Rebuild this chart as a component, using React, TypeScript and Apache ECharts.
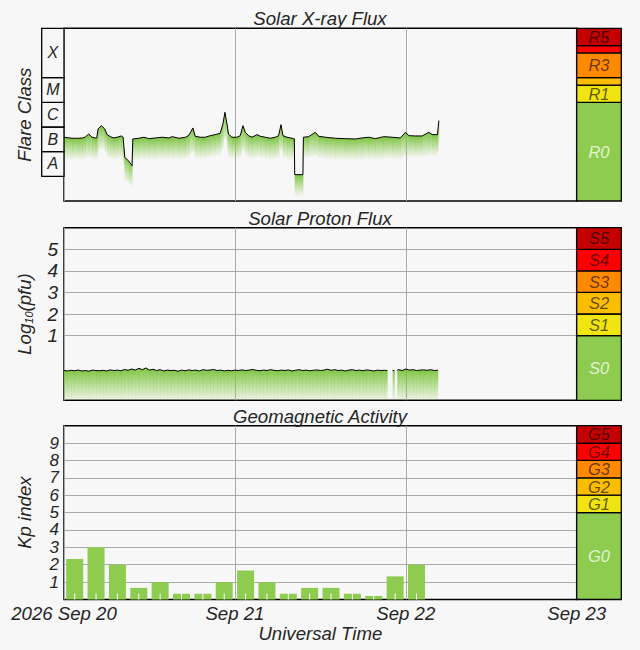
import React, { useEffect, useRef } from 'react';
import * as echarts from 'echarts';

// time axis is in hours from 2026 Sep 20 00:00 UT
const dayLabels = ['2026 Sep 20', 'Sep 21', 'Sep 22', 'Sep 23'];

// GOES X-ray flux (W/m2)
const xrayHours = [
  0.0, 1.12, 2.07, 2.6, 3.0, 3.47, 3.94, 4.4, 4.6, 4.78, 5.25, 5.72, 6.05, 6.51, 6.99, 7.45,
  8.06, 8.3, 8.54, 9.1, 9.56, 9.66, 10.5, 11.21, 11.91, 12.84, 13.78, 14.72, 15.19, 16.13,
  17.06, 17.54, 18.1, 18.42, 19.13, 19.83, 20.53, 21.23, 21.94, 22.32, 22.6, 22.88, 23.1,
  23.58, 24.29, 24.75, 25.13, 25.45, 25.92, 26.4, 27.1, 27.56, 28.27, 28.97, 29.67, 30.14,
  30.47, 30.75, 31.32, 32.02, 32.35, 32.4, 33.55, 33.62, 34.36, 35.3, 35.76, 36.7, 38.11,
  39.51, 40.92, 41.86, 42.79, 43.73, 44.9, 46.08, 47.25, 47.95, 48.42, 49.36, 50.3, 51.23,
  51.71, 52.45, 52.64,
];
const xrayFlux = [
  3.84e-7, 3.49e-7, 3.49e-7, 3.59e-7, 3.94e-7, 5.21e-7, 3.84e-7, 3.59e-7, 3.59e-7, 8.32e-7,
  1.13e-6, 8.32e-7, 4.89e-7, 4.06e-7, 3.59e-7, 3.84e-7, 4.33e-7, 3.84e-7, 5.93e-8, 4.08e-8,
  2.71e-8, 3.27e-7, 3.49e-7, 3.84e-7, 3.37e-7, 3.59e-7, 3.84e-7, 3.59e-7, 4.06e-7, 3.49e-7,
  3.84e-7, 4.62e-7, 9.14e-7, 4.21e-7, 3.84e-7, 3.84e-7, 4.45e-7, 4.89e-7, 5.57e-7, 1.33e-6,
  3.95e-6, 1.33e-6, 5.21e-7, 3.84e-7, 3.84e-7, 4.45e-7, 1.13e-6, 6.11e-7, 4.45e-7, 3.84e-7,
  4.89e-7, 4.21e-7, 3.84e-7, 3.49e-7, 3.84e-7, 4.45e-7, 1.24e-6, 4.45e-7, 3.84e-7, 3.49e-7,
  3.27e-7, 1.17e-8, 1.17e-8, 3.84e-7, 4.06e-7, 6.11e-7, 4.21e-7, 3.84e-7, 3.49e-7, 3.37e-7,
  3.27e-7, 3.59e-7, 3.84e-7, 3.37e-7, 4.06e-7, 3.84e-7, 3.59e-7, 6.11e-7, 4.45e-7, 4.33e-7,
  4.33e-7, 6.11e-7, 4.89e-7, 4.89e-7, 1.81e-6,
];

// flare class boxes and R scale
const flareClasses = ['A', 'B', 'C', 'M', 'X'];
const flareBounds = [1e-8, 1e-7, 1e-6, 1e-5, 1e-4, 1e-2];
const rLabels = ['R0', 'R1', '', 'R3', '', 'R5'];
const rBounds = [1e-9, 1e-5, 5e-5, 1e-4, 1e-3, 2e-3, 1e-2];

// >=10 MeV proton flux, log10(pfu); cadence 30 min
const protonStep = 0.5;
const protonMain = [
  -0.62, -0.64, -0.61, -0.63, -0.6, -0.64, -0.62, -0.65, -0.6, -0.62, -0.63,
  -0.61, -0.64, -0.59, -0.62, -0.6, -0.63, -0.57, -0.61, -0.55, -0.6,
  -0.52, -0.58, -0.5, -0.6, -0.56, -0.62, -0.58, -0.64, -0.6, -0.62,
  -0.61, -0.65, -0.6, -0.63, -0.59, -0.62, -0.6, -0.64, -0.58, -0.61,
  -0.6, -0.57, -0.62, -0.6, -0.64, -0.61, -0.63, -0.6, -0.62, -0.59,
  -0.62, -0.6, -0.57, -0.61, -0.63, -0.6, -0.62, -0.58, -0.61, -0.63,
  -0.6, -0.62, -0.59, -0.64, -0.61, -0.58, -0.62, -0.6, -0.63, -0.61,
  -0.59, -0.62, -0.6, -0.56, -0.61, -0.58, -0.62, -0.6, -0.64, -0.6,
  -0.58, -0.62, -0.6, -0.63, -0.59, -0.61, -0.64, -0.6, -0.62, -0.61,
];
const protonTailHours = [45.4, 45.45, 46.15, 46.4, 46.45, 46.8, 47.0, 47.5, 48.0, 48.5, 49.0, 49.5, 50.0, 50.5, 51.0, 51.5, 52.0, 52.5];
const protonTail = [-0.62, null, -0.6, -0.63, null, -0.6, -0.58, -0.62, -0.55, -0.6, -0.58, -0.62, -0.6, -0.59, -0.61, -0.58, -0.62, -0.6];
const protonHours = [...protonMain.map((_, i) => i * protonStep), ...protonTailHours];
const protonLog: (number | null)[] = [...protonMain, ...protonTail];
const sLabels = ['S0', 'S1', 'S2', 'S3', 'S4', 'S5'];
const sBounds = [-2, 1, 2, 3, 4, 5, 6];

// planetary Kp, 3-hour bins
const kpHours = [1.5, 4.5, 7.5, 10.5, 13.5, 16.5, 19.5, 22.5, 25.5, 28.5, 31.5, 34.5, 37.5, 40.5, 43.5, 46.5, 49.5];
const kpValues = [2.33, 3.0, 2.0, 0.67, 1.0, 0.33, 0.33, 1.0, 1.67, 1.0, 0.33, 0.67, 0.67, 0.33, 0.2, 1.33, 2.0];
const kpLines = [1, 2, 3, 4, 5, 6, 7, 8, 9];
const gLabels = ['G0', 'G1', 'G2', 'G3', 'G4', 'G5'];
const gBounds = [0, 5, 6, 7, 8, 9, 10];

const scaleColors = ['#8dcc4e', '#f0e412', '#fbbd00', '#ff8a00', '#ff0000', '#c40000'];
const GREEN = '#8dcc4e';
const BG = '#f7f7f7';
const FONT = 'Liberation Sans';
const TEXT = '#262626';

const PLOT_L = 64;
const PLOT_W = 512.7;
const SCALE_W = 44.6;
const BOX_L = 41.7;
const panels = [
  { top: 28.3, height: 172.7 },
  { top: 227.7, height: 172.6 },
  { top: 425.7, height: 173.8 },
];

const App: React.FC = () => {
  const chartRef = useRef<HTMLDivElement>(null);

  useEffect(() => {
    const chart = echarts.init(chartRef.current!, null, { renderer: 'svg' });

    const textBase = { fontFamily: FONT, fontStyle: 'italic' as const };

    const bandSeries = (idx: number, bounds: number[], labels: string[], colors: string[], labelColor: (i: number) => string, fontSize: number) => ({
      type: 'custom',
      xAxisIndex: idx,
      yAxisIndex: idx,
      silent: true,
      z: 5,
      data: labels.map((_, i) => [0, bounds[i], bounds[i + 1]]),
      renderItem: (params: any, api: any) => {
        const i = params.dataIndex;
        const p0 = api.coord([0, bounds[i]]);
        const p1 = api.coord([1, bounds[i + 1]]);
        return {
          type: 'group',
          children: [
            {
              type: 'rect',
              shape: { x: p0[0], y: p1[1], width: p1[0] - p0[0], height: p0[1] - p1[1] },
              style: { fill: colors[i], stroke: '#000', lineWidth: 1.3 },
            },
            {
              type: 'text',
              style: {
                text: labels[i],
                x: (p0[0] + p1[0]) / 2,
                y: (p0[1] + p1[1]) / 2,
                align: 'center',
                verticalAlign: 'middle',
                fontSize,
                lineHeight: fontSize,
                fontFamily: FONT,
                fontStyle: 'italic',
                fill: labelColor(i),
              },
            },
          ],
        };
      },
    });

    const scaleLabelColor = (i: number) => (i === 0 ? 'rgba(255,255,255,0.75)' : 'rgba(0,0,0,0.62)');

    const fillGradient = (top: string, bottom: string) =>
      new echarts.graphic.LinearGradient(0, 0, 0, 1, [
        { offset: 0, color: top },
        { offset: 1, color: bottom },
      ]);

    const gridLines = (values: number[]) => ({
      silent: true,
      symbol: ['none', 'none'],
      label: { show: false },
      lineStyle: { color: '#aaa', width: 1, type: 'solid' },
      data: values.map((v) => ({ yAxis: v })),
    });

    const frame = { show: true, borderColor: '#000', borderWidth: 1.5, backgroundColor: BG };
    const grids = [
      // 0 x-ray, 1 flare class boxes, 2 R scale
      { left: PLOT_L, width: PLOT_W, ...panels[0], ...frame },
      { left: BOX_L, width: PLOT_L - BOX_L, ...panels[0] },
      { left: PLOT_L + PLOT_W, width: SCALE_W, ...panels[0] },
      // 3 protons, 4 S scale
      { left: PLOT_L, width: PLOT_W, ...panels[1], ...frame },
      { left: PLOT_L + PLOT_W, width: SCALE_W, ...panels[1] },
      // 5 Kp, 6 G scale
      { left: PLOT_L, width: PLOT_W, ...panels[2], ...frame },
      { left: PLOT_L + PLOT_W, width: SCALE_W, ...panels[2] },
    ];

    const timeAxis = (gridIndex: number, labels: boolean) => ({
      type: 'value',
      gridIndex,
      min: 0,
      max: 72,
      interval: 24,
      axisLine: { show: false },
      axisTick: { show: false },
      splitLine: { show: true, lineStyle: { color: '#aaa', width: 1 } },
      axisLabel: labels
        ? {
            show: true,
            margin: 4,
            fontSize: 18.6,
            color: TEXT,
            ...textBase,
            formatter: (v: number) => dayLabels[Math.round(v / 24)],
          }
        : { show: false },
      name: labels ? 'Universal Time' : '',
      nameLocation: 'middle',
      nameGap: 24,
      nameTextStyle: { fontSize: 18.6, color: TEXT, ...textBase },
    });
    const unitAxis = (gridIndex: number) => ({ type: 'value', gridIndex, min: 0, max: 1, show: false });
    const hiddenY = (gridIndex: number, extra: object) => ({ gridIndex, show: false, ...extra });
    const logRange = { type: 'log', logBase: 10, min: 1e-9, max: 1e-2 };

    const yName = {
      nameLocation: 'middle',
      nameGap: 30,
      nameTextStyle: { fontSize: 18.6, color: TEXT, ...textBase },
    };

    const option = {
      animation: false,
      backgroundColor: BG,
      textStyle: { fontFamily: FONT },
      title: [
        { text: 'Solar X-ray Flux', top: 9 },
        { text: 'Solar Proton Flux', top: 208.5 },
        { text: 'Geomagnetic Activity', top: 406.5 },
      ].map((t) => ({
        ...t,
        left: 'center',
        padding: 0,
        textStyle: { fontSize: 18.6, fontWeight: 'normal', color: TEXT, ...textBase },
      })),
      grid: grids,
      xAxis: [timeAxis(0, false), unitAxis(1), unitAxis(2), timeAxis(3, false), unitAxis(4), timeAxis(5, true), unitAxis(6)],
      yAxis: [
        {
          ...logRange,
          gridIndex: 0,
          axisLine: { show: false },
          axisTick: { show: false },
          axisLabel: { show: false },
          splitLine: { show: false },
          name: 'Flare Class',
          ...yName,
        },
        hiddenY(1, logRange),
        hiddenY(2, logRange),
        {
          type: 'value',
          gridIndex: 3,
          min: -2,
          max: 6,
          interval: 1,
          axisLine: { show: false },
          axisTick: { show: false },
          splitLine: { show: false },
          axisLabel: {
            margin: 6,
            fontSize: 19,
            color: TEXT,
            ...textBase,
            formatter: (v: number) => (v >= 1 && v <= 5 ? String(v) : ''),
          },
          name: 'Log{sub|10}(pfu)',
          ...yName,
          nameTextStyle: {
            ...yName.nameTextStyle,
            rich: { sub: { fontSize: 11, color: TEXT, ...textBase, verticalAlign: 'bottom', padding: [8, 0, 0, 0] } },
          },
        },
        hiddenY(4, { type: 'value', min: -2, max: 6 }),
        {
          type: 'value',
          gridIndex: 5,
          min: 0,
          max: 10,
          interval: 1,
          axisLine: { show: false },
          axisTick: { show: false },
          splitLine: { show: false },
          axisLabel: {
            margin: 5,
            fontSize: 17,
            lineHeight: 16,
            color: TEXT,
            ...textBase,
            showMinLabel: false,
            showMaxLabel: false,
          },
          name: 'Kp index',
          ...yName,
        },
        hiddenY(6, { type: 'value', min: 0, max: 10 }),
      ],
      series: [
        // x-ray fading fill under the curve
        {
          type: 'custom',
          xAxisIndex: 0,
          yAxisIndex: 0,
          clip: true,
          silent: true,
          z: 2,
          data: xrayHours.map((h, i) => [h, xrayFlux[i]]),
          renderItem: (params: any, api: any) => {
            const i = params.dataIndex;
            if (i >= xrayHours.length - 1) return null;
            const a = api.coord([xrayHours[i], xrayFlux[i]]);
            const b = api.coord([xrayHours[i + 1], xrayFlux[i + 1]]);
            const depth = 22;
            return {
              type: 'polygon',
              shape: { points: [a, [b[0] + 0.4, b[1]], [b[0] + 0.4, b[1] + depth], [a[0], a[1] + depth]] },
              style: { fill: fillGradient('rgba(118,192,58,0.95)', 'rgba(140,204,80,0)') },
            };
          },
        },
        {
          type: 'line',
          xAxisIndex: 0,
          yAxisIndex: 0,
          showSymbol: false,
          symbol: 'none',
          z: 3,
          lineStyle: { color: '#000', width: 1 },
          data: xrayHours.map((h, i) => [h, xrayFlux[i]]),
          markLine: gridLines(rBounds.slice(1, -1)),
        },
        bandSeries(1, flareBounds, flareClasses, flareClasses.map(() => BG), () => TEXT, 16),
        bandSeries(2, rBounds, rLabels, scaleColors, scaleLabelColor, 16.5),
        // proton fill down to the bottom of the panel
        {
          type: 'custom',
          xAxisIndex: 3,
          yAxisIndex: 3,
          clip: true,
          silent: true,
          z: 2,
          data: protonHours.map((h, i) => [h, protonLog[i] ?? '-']),
          renderItem: (params: any, api: any) => {
            const i = params.dataIndex;
            if (i >= protonHours.length - 1) return null;
            const v0 = protonLog[i];
            const v1 = protonLog[i + 1];
            if (v0 === null || v1 === null) return null;
            const a = api.coord([protonHours[i], v0]);
            const b = api.coord([protonHours[i + 1], v1]);
            const bottom = api.coord([protonHours[i], -2])[1];
            return {
              type: 'polygon',
              shape: { points: [a, [b[0] + 0.4, b[1]], [b[0] + 0.4, bottom], [a[0], bottom]] },
              style: { fill: fillGradient('rgba(122,194,60,0.95)', 'rgba(140,204,80,0.1)') },
            };
          },
        },
        {
          type: 'line',
          xAxisIndex: 3,
          yAxisIndex: 3,
          showSymbol: false,
          symbol: 'none',
          connectNulls: false,
          z: 3,
          lineStyle: { color: '#000', width: 1 },
          data: protonHours.map((h, i) => [h, protonLog[i] ?? '-']),
          markLine: gridLines(sBounds.slice(1, -1)),
        },
        bandSeries(4, sBounds, sLabels, scaleColors, scaleLabelColor, 16.5),
        {
          type: 'bar',
          xAxisIndex: 5,
          yAxisIndex: 5,
          barWidth: 17,
          z: 2,
          itemStyle: { color: GREEN },
          data: kpHours.map((h, i) => [h, kpValues[i]]),
          markLine: { ...gridLines(kpLines), z: 1 },
        },
        // small white ticks at the foot of each Kp bar
        {
          type: 'custom',
          xAxisIndex: 5,
          yAxisIndex: 5,
          silent: true,
          z: 3,
          data: kpHours.map((h) => [h, 0]),
          renderItem: (params: any, api: any) => {
            const p = api.coord([kpHours[params.dataIndex], 0]);
            return {
              type: 'line',
              shape: { x1: p[0], y1: p[1], x2: p[0], y2: p[1] - 6 },
              style: { stroke: '#fff', lineWidth: 1 },
            };
          },
        },
        bandSeries(6, gBounds, gLabels, scaleColors, scaleLabelColor, 16.5),
      ],
    };

    chart.setOption(option as any);

    return () => {
      chart.dispose();
    };
  }, []);

  return (
    <div
      ref={chartRef}
      style={{ position: 'fixed', left: 0, top: 0, width: '640px', height: '650px', background: BG }}
    />
  );
};

export default App;
